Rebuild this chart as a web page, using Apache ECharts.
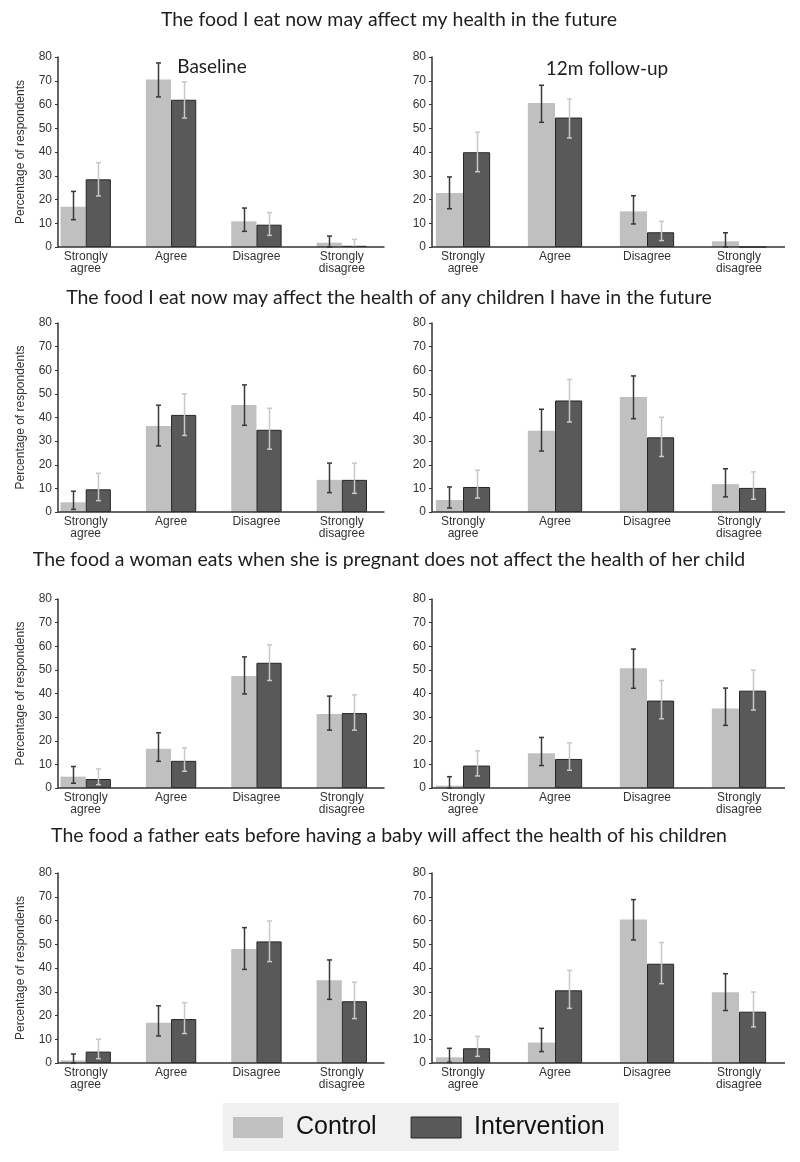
<!DOCTYPE html>
<html><head><meta charset="utf-8">
<script src="https://cdn.jsdelivr.net/npm/echarts@6/dist/echarts.min.js"></script>
<style>html,body{margin:0;padding:0;background:#fff}#c{width:800px;height:1162px}</style>
</head><body><div id="c"></div><script>
// ---------- DATA ----------
const categories = ['Strongly\nagree', 'Agree', 'Disagree', 'Strongly\ndisagree'];
const seriesNames = ['Control', 'Intervention'];
const yMin = 0, yMax = 80, yStep = 10;
const questionTitles = [
  'The food I eat now may affect my health in the future',
  'The food I eat now may affect the health of any children I have in the future',
  'The food a woman eats when she is pregnant does not affect the health of her child',
  'The food a father eats before having a baby will affect the health of his children'
];
const timepointLabels = ['Baseline', '12m follow-up'];

// Q1
const q1BaseControl = [17, 70.5, 10.8, 1.8];
const q1BaseIntervention = [28.5, 62, 9.4, 0.5];
const q1BaseControlCI = [[11.5, 23.4], [63.2, 77.5], [6.6, 16.4], [0, 4.6]];
const q1BaseInterventionCI = [[21.5, 35.5], [54.3, 69.5], [4.9, 14.5], [0, 3.2]];
const q1FollowControl = [22.7, 60.6, 15, 2.4];
const q1FollowIntervention = [39.9, 54.5, 6.2, 0];
const q1FollowControlCI = [[16.1, 29.5], [52.5, 68.1], [9.7, 21.6], [0, 6]];
const q1FollowInterventionCI = [[31.7, 48.3], [45.9, 62.3], [2.7, 10.8], null];
// Q2
const q2BaseControl = [4.1, 36.4, 45.3, 13.6];
const q2BaseIntervention = [9.6, 41.1, 34.8, 13.6];
const q2BaseControlCI = [[1.1, 8.8], [28, 45.2], [36.7, 53.8], [8.2, 20.7]];
const q2BaseInterventionCI = [[4.8, 16.4], [32.4, 50], [26.6, 43.9], [7.9, 20.7]];
const q2FollowControl = [5.1, 34.4, 48.7, 11.8];
const q2FollowIntervention = [10.6, 47.2, 31.6, 10.2];
const q2FollowControlCI = [[1.7, 10.6], [25.8, 43.5], [39.5, 57.6], [6.4, 18.3]];
const q2FollowInterventionCI = [[5.9, 17.7], [38.1, 56.1], [23.5, 40.1], [5.4, 17]];
// Q3
const q3BaseControl = [4.8, 16.6, 47.4, 31.3];
const q3BaseIntervention = [3.8, 11.5, 53, 31.7];
const q3BaseControlCI = [[2, 9.1], [11.3, 23.4], [39.8, 55.5], [24.5, 38.9]];
const q3BaseInterventionCI = [[1.4, 8.1], [7.1, 17], [45.5, 60.6], [24.5, 39.4]];
const q3FollowControl = [1.0, 14.7, 50.7, 33.7];
const q3FollowIntervention = [9.5, 12.3, 37, 41.2];
const q3FollowControlCI = [[0, 4.8], [9.5, 21.4], [42.2, 58.8], [26.5, 42.3]];
const q3FollowInterventionCI = [[5.1, 15.7], [7.5, 19.1], [29.3, 45.5], [33, 49.9]];
// Q4
const q4BaseControl = [1.1, 17, 48, 34.8];
const q4BaseIntervention = [4.8, 18.5, 51.2, 26];
const q4BaseControlCI = [[0, 3.8], [11.4, 24.1], [39.4, 57], [26.8, 43.4]];
const q4BaseInterventionCI = [[1.8, 10], [12.4, 25.4], [42.7, 59.8], [18.7, 34]];
const q4FollowControl = [2.4, 8.6, 60.4, 29.8];
const q4FollowIntervention = [6.2, 30.6, 41.8, 21.6];
const q4FollowControlCI = [[0.3, 6.2], [4.8, 14.6], [51.8, 68.8], [22.1, 37.6]];
const q4FollowInterventionCI = [[2.8, 11.2], [23, 39], [33.4, 50.7], [15.2, 29.9]];

const panels = [
  [q1BaseControl, q1BaseIntervention, q1BaseControlCI, q1BaseInterventionCI],
  [q1FollowControl, q1FollowIntervention, q1FollowControlCI, q1FollowInterventionCI],
  [q2BaseControl, q2BaseIntervention, q2BaseControlCI, q2BaseInterventionCI],
  [q2FollowControl, q2FollowIntervention, q2FollowControlCI, q2FollowInterventionCI],
  [q3BaseControl, q3BaseIntervention, q3BaseControlCI, q3BaseInterventionCI],
  [q3FollowControl, q3FollowIntervention, q3FollowControlCI, q3FollowInterventionCI],
  [q4BaseControl, q4BaseIntervention, q4BaseControlCI, q4BaseInterventionCI],
  [q4FollowControl, q4FollowIntervention, q4FollowControlCI, q4FollowInterventionCI]
];

// ---------- LAYOUT / STYLE ----------
const rowTops = [57, 323, 599, 873];
const rowHeights = [190, 189, 189, 190];
const colLefts = [43, 417];
const colWidths = [341.5, 368];
const axisShift = 15;
const GAP = 0.41;
const titleCenters = [22, 300, 562, 838];
const colControl = '#c0c0c0', colInterv = '#595959';
const ciControl = '#383838', ciInterv = '#c8c8c8';
const axisColor = '#333';
const labelFont = 'Liberation Sans, Arial, sans-serif';
const titleFont = 'Lato, "Open Sans", sans-serif';

function ciRender(side, color) {
  return function (params, api) {
    const cat = api.value(0), lo = api.value(1), hi = api.value(2);
    const band = api.size([1, 0])[0];
    const bw = band * (1 - GAP) / 2;
    const cx = Math.round(api.coord([cat, 0])[0] + side * bw / 2) + 0.5;
    const yLo = api.coord([cat, lo])[1], yHi = api.coord([cat, hi])[1];
    const cap = 2.5;
    const st = { stroke: color, lineWidth: 1.5 };
    return { type: 'group', children: [
      { type: 'line', shape: { x1: cx, y1: yLo, x2: cx, y2: yHi }, style: st },
      { type: 'line', shape: { x1: cx - cap, y1: yHi, x2: cx + cap, y2: yHi }, style: st },
      { type: 'line', shape: { x1: cx - cap, y1: yLo, x2: cx + cap, y2: yLo }, style: st }
    ] };
  };
}
function baselineRender(params, api) {
  const cs = params.coordSys;
  const y = api.coord([0, 0])[1];
  return { type: 'line', shape: { x1: cs.x + axisShift, y1: y, x2: cs.x + cs.width, y2: y },
    style: { stroke: axisColor, lineWidth: 1.5 } };
}

const grid = [], xAxis = [], yAxis = [], series = [], title = [];
panels.forEach((p, i) => {
  const r = Math.floor(i / 2), c = i % 2;
  grid.push({ left: colLefts[c], width: colWidths[c], top: rowTops[r], height: rowHeights[r] });
  xAxis.push({ gridIndex: i, type: 'category', data: categories,
    axisLine: { show: false }, axisTick: { show: false },
    axisLabel: { fontSize: 12, color: axisColor, fontFamily: labelFont, lineHeight: 12, margin: 4, interval: 0 } });
  yAxis.push({ gridIndex: i, type: 'value', min: yMin, max: yMax, interval: yStep, offset: -axisShift,
    axisLine: { show: true, lineStyle: { color: axisColor, width: 1.5 } },
    axisTick: { show: true, length: 3, lineStyle: { color: axisColor } },
    splitLine: { show: false },
    axisLabel: { fontSize: 12, color: axisColor, fontFamily: labelFont, margin: 6 },
    name: c === 0 ? 'Percentage of respondents' : '', nameLocation: 'middle', nameGap: 31,
    nameTextStyle: { fontSize: 12, color: axisColor, fontFamily: labelFont } });
  series.push({ name: seriesNames[0], type: 'bar', xAxisIndex: i, yAxisIndex: i, data: p[0],
    barGap: '0%', barCategoryGap: (GAP * 100) + '%', itemStyle: { color: colControl }, silent: true });
  series.push({ name: seriesNames[1], type: 'bar', xAxisIndex: i, yAxisIndex: i, data: p[1],
    barGap: '0%', barCategoryGap: (GAP * 100) + '%',
    itemStyle: { color: colInterv, borderColor: '#262626', borderWidth: 1 }, silent: true });
  const ciData = (arr) => arr.map((v, k) => v ? [k, v[0], v[1]] : null).filter(Boolean);
  series.push({ name: 'ci-c', type: 'custom', xAxisIndex: i, yAxisIndex: i, z: 5, silent: true,
    data: ciData(p[2]), renderItem: ciRender(-1, ciControl) });
  series.push({ name: 'ci-i', type: 'custom', xAxisIndex: i, yAxisIndex: i, z: 5, silent: true,
    data: ciData(p[3]), renderItem: ciRender(1, ciInterv) });
  series.push({ name: 'base', type: 'custom', xAxisIndex: i, yAxisIndex: i, z: 6, silent: true,
    data: [[0, 0]], renderItem: baselineRender });
});
questionTitles.forEach((t, r) => {
  title.push({ text: t, left: 389, top: titleCenters[r] - 12, textAlign: 'center', padding: 0,
    textStyle: { fontFamily: titleFont, fontSize: 19.5, fontWeight: 'normal', color: '#1e1e1e' } });
});
title.push({ text: timepointLabels[0], left: 212, top: 57, textAlign: 'center', padding: 0,
  textStyle: { fontFamily: titleFont, fontSize: 19, fontWeight: 'normal', color: '#1e1e1e' } });
title.push({ text: timepointLabels[1], left: 607, top: 59, textAlign: 'center', padding: 0,
  textStyle: { fontFamily: titleFont, fontSize: 19, fontWeight: 'normal', color: '#1e1e1e' } });

const chart = echarts.init(document.getElementById('c'), null, { renderer: 'canvas' });
chart.setOption({
  animation: false,
  backgroundColor: '#fff',
  title, grid, xAxis, yAxis, series,
  legend: { data: seriesNames, left: 223, top: 1103, orient: 'horizontal',
    padding: [12, 14, 11, 10], itemWidth: 50, itemHeight: 21, itemGap: 34, icon: 'rect',
    backgroundColor: '#f0f0f0', selectedMode: false,
    itemStyle: { borderWidth: 1 },
    textStyle: { fontSize: 25, color: '#111', fontFamily: labelFont, padding: [0, 0, 0, 8] } }
});
</script></body></html>
